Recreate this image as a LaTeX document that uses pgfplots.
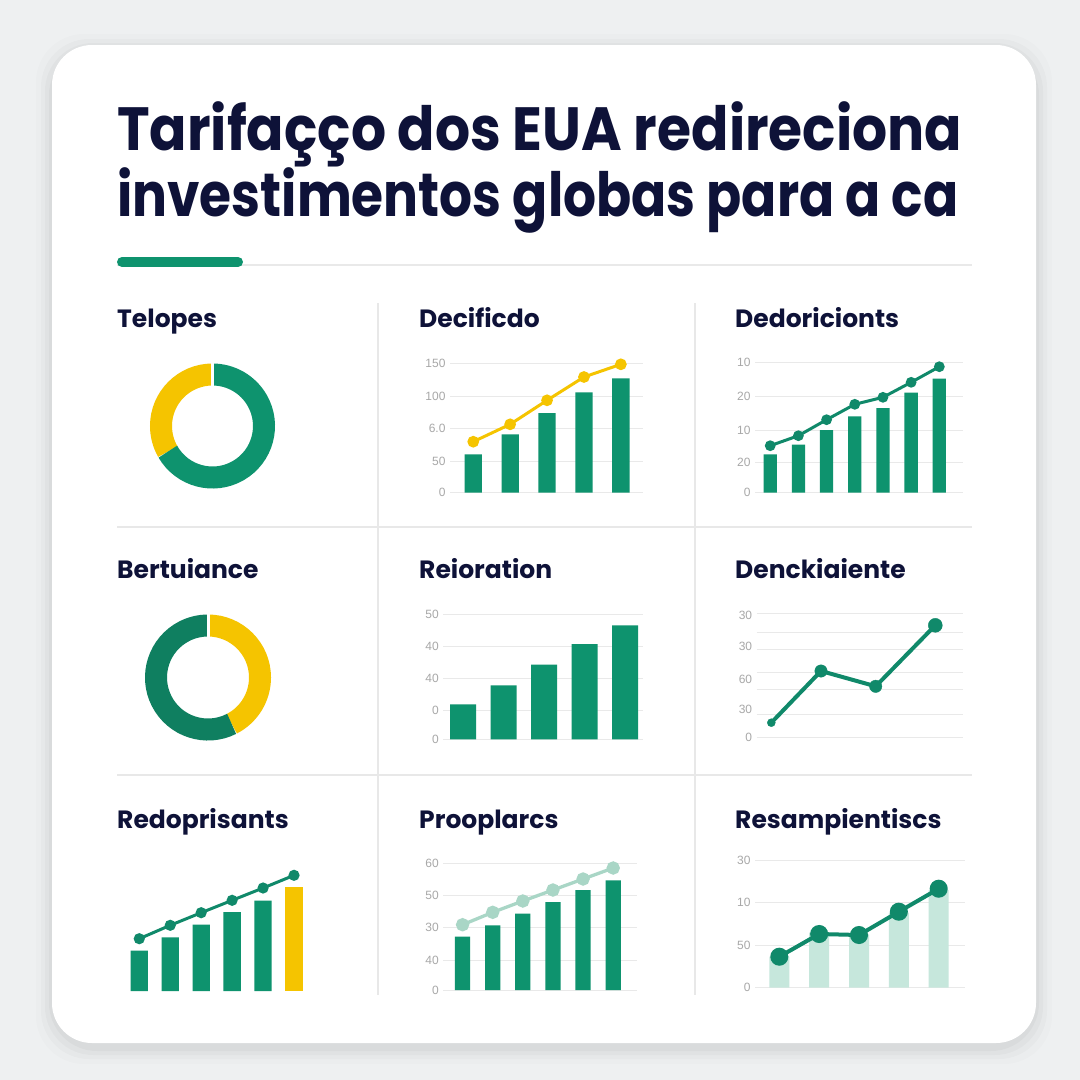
\documentclass[border=0pt]{standalone}
\usepackage{fontspec}
\usepackage{graphicx}
\usepackage{pgfplots}
\pgfplotsset{compat=1.18}
\setmainfont{Poppins}
\newfontfamily\tickfont{Liberation Sans}
\definecolor{bg}{HTML}{EEF0F1}
\definecolor{navy}{HTML}{0E1238}
\definecolor{gr}{HTML}{0E936E}
\definecolor{grl}{HTML}{10896A}
\definecolor{grd}{HTML}{0F7F60}
\definecolor{yl}{HTML}{F5C400}
\definecolor{lg}{HTML}{A9D6C6}
\definecolor{lb}{HTML}{C6E7DC}
\definecolor{gridc}{HTML}{E9E9E9}
\definecolor{sep}{HTML}{E8E8E8}
\definecolor{tickc}{HTML}{A8A8A8}
\pgfplotsset{
  panel/.style={scale only axis, anchor=south west, clip=false,
    axis line style={draw=none}, tick style={draw=none},
    xtick=\empty, ymajorgrids, grid style={gridc, line width=1pt},
    ymin=0,
    yticklabel style={font=\fontsize{12}{12}\selectfont\tickfont, text=tickc, xshift=-1pt},
    /pgf/number format/assume math mode=true},
  donut/.style={scale only axis, anchor=south west, hide axis,
    xmin=-1, xmax=1, ymin=-1, ymax=1, clip=false},
}
% donut shares (fraction of the ring)
\def\dOneY{0.333}  % Telopes, yellow share
\def\dTwoY{0.425}  % Bertuiance, yellow share
\begin{document}
\begin{tikzpicture}[x=1pt,y=-1pt]
\fill[bg] (0,0) rectangle (1080,1080);
\foreach \i/\o in {16/0.012, 11/0.018, 7/0.022, 3/0.028}{
  \fill[black, opacity=\o, rounded corners=48pt] (52-\i,45-\i+5) rectangle (1036+\i,1043+\i+5);}
\fill[white, rounded corners=40pt] (52,45) rectangle (1036,1043);
% title
\node[anchor=base west, inner sep=0, text=navy, font=\fontsize{61}{61}\selectfont\bfseries] at (117,150) {\resizebox{845pt}{\height}{Tarifaçço dos EUA redireciona}};
\node[anchor=base west, inner sep=0, text=navy, font=\fontsize{61}{61}\selectfont\bfseries] at (117,216.7) {\resizebox{841pt}{\height}{investimentos globas para a ca}};
\draw[gridc, line width=1.5pt] (117,265) -- (972,265);
\draw[gr, line width=10pt, line cap=round] (122,262) -- (238,262);
% separators
\draw[sep, line width=1.2pt] (117,527) -- (972,527);
\draw[sep, line width=1.2pt] (117,775) -- (972,775);
\draw[sep, line width=1.2pt] (378,303) -- (378,995);
\draw[sep, line width=1.2pt] (695,303) -- (695,995);
% panel titles
\tikzset{pt/.style={anchor=base west, inner sep=0, text=navy, font=\fontsize{25}{25}\selectfont\bfseries}}
\node[pt] at (117,327.3) {Telopes};
\node[pt] at (419,327.3) {Decificdo};
\node[pt] at (735,327.3) {Dedoricionts};
\node[pt] at (117,578) {Bertuiance};
\node[pt] at (419,578) {Reioration};
\node[pt] at (735,578) {Denckiaiente};
\node[pt] at (117,828.5) {Redoprisants};
\node[pt] at (419,828.5) {Prooplarcs};
\node[pt] at (735,828.5) {Resampientiscs};

% ---- Telopes donut
\begin{axis}[donut, at={(150.5pt,-488pt)}, width=124pt, height=124pt]
\pgfmathsetmacro\ea{90+360*\dOneY}
\draw[yl, line width=22pt] (axis cs:0,0) ++(90:51.5pt) arc[start angle=90, end angle=\ea, radius=51.5pt];
\draw[gr, line width=22pt] (axis cs:0,0) ++(\ea:51.5pt) arc[start angle=\ea, end angle=450, radius=51.5pt];
\draw[white, line width=3pt] (axis cs:0,0) ++(90:38pt) -- ++(90:28pt);
\end{axis}

% ---- Decificdo
\begin{axis}[panel, at={(450pt,-492.7pt)}, width=193pt, height=129.4pt, xmin=-0.63, xmax=4.6, ymax=129.4,
  ytick={0,31.4,64,96.7,129.4}, yticklabels={0,50,6.0,100,150}]
\addplot[ybar, bar width=17.3pt, fill=gr, draw=none] coordinates {(0,38.4)(1,58.4)(2,79.7)(3,100.4)(4,114.4)};
\addplot[yl, line width=3pt, mark=*, mark size=4.3pt] coordinates {(0,51)(1,68.4)(2,92.4)(3,115.7)(4,128.4)};
\end{axis}

% ---- Dedoricionts
\begin{axis}[panel, at={(755pt,-492.7pt)}, width=208pt, height=130pt, xmin=-0.54, xmax=6.84, ymax=130,
  ytick={0,30,62.7,96,130}, yticklabels={0,20,10,20,10}]
\addplot[ybar, bar width=13.3pt, fill=gr, draw=none] coordinates {(0,38.4)(1,48)(2,62.7)(3,76.4)(4,84.7)(5,100)(6,114)};
\addplot[grl, line width=3pt, mark=*, mark size=3.8pt] coordinates {(0,47)(1,57)(2,73)(3,88.4)(4,95.4)(5,110.4)(6,126)};
\end{axis}

% ---- Bertuiance donut
\begin{axis}[donut, at={(145.5pt,-740pt)}, width=125pt, height=125pt]
\pgfmathsetmacro\eb{90-360*\dTwoY}
\draw[yl, line width=22pt] (axis cs:0,0) ++(90:52pt) arc[start angle=90, end angle=\eb, radius=52pt];
\draw[grd, line width=22pt] (axis cs:0,0) ++(\eb:52pt) arc[start angle=\eb, end angle=-270, radius=52pt];
\draw[white, line width=3pt] (axis cs:0,0) ++(90:38pt) -- ++(90:28pt);
\end{axis}

% ---- Reioration
\begin{axis}[panel, at={(443.3pt,-739.3pt)}, width=200pt, height=125.3pt, xmin=-0.49, xmax=4.45, ymax=125.3,
  ytick={0,29.3,60.6,92.6,125.3}, yticklabels={0,0,40,40,50}]
\addplot[ybar, bar width=26pt, fill=gr, draw=none] coordinates {(0,35)(1,54)(2,74.6)(3,95.3)(4,114)};
\end{axis}

% ---- Denckiaiente
\begin{axis}[panel, at={(756.7pt,-737.7pt)}, width=206.6pt, height=124.4pt, xmin=0, xmax=206.6, ymax=124.4,
  ytick={0,23.7,48.4,65.7,88.4,105.4,124.4}, yticklabels={},
  extra y ticks={0,28.4,58.4,91,122.7}, extra y tick labels={0,30,60,30,30},
  extra y tick style={grid=none}]
\addplot[grl, line width=4pt] coordinates {(14.6,15)(64.3,66.7)(119,51.4)(178.6,112.4)};
\addplot[grl, only marks, mark=*, mark size=4pt] coordinates {(14.6,15)};
\addplot[grl, only marks, mark=*, mark size=6.2pt] coordinates {(64.3,66.7)(119,51.4)};
\addplot[grl, only marks, mark=*, mark size=7pt] coordinates {(178.6,112.4)};
\end{axis}

% ---- Redoprisants
\begin{axis}[scale only axis, anchor=south west, hide axis, clip=false, at={(120.7pt,-991pt)}, width=191.9pt, height=120pt,
  xmin=-0.6, xmax=5.6, ymin=0, ymax=120]
\addplot[ybar, bar width=17.3pt, fill=gr, draw=none] coordinates {(0,40.3)(1,53.7)(2,66.3)(3,79)(4,90.3)};
\addplot[ybar, bar width=17.3pt, fill=yl, draw=none] coordinates {(5,103.7)};
\addplot[grl, line width=3pt, mark=*, mark size=4pt] coordinates {(0,52.3)(1,65.7)(2,78.3)(3,90.7)(4,103)(5,115.7)};
\end{axis}

% ---- Prooplarcs
\begin{axis}[panel, at={(443.3pt,-990pt)}, width=193.4pt, height=126.7pt, xmin=-0.64, xmax=5.78, ymax=126.7,
  ytick={0,30,62.7,95,126.7}, yticklabels={0,40,30,50,60}]
\addplot[ybar, bar width=15.3pt, fill=gr, draw=none] coordinates {(0,53.3)(1,64.7)(2,76.3)(3,88)(4,100)(5,109.7)};
\addplot[lg, line width=3.3pt, mark=*, mark size=5pt] coordinates {(0,65.3)(1,77.7)(2,89)(3,100)(4,111)(5,122)};
\end{axis}

% ---- Resampientiscs
\begin{axis}[panel, at={(755pt,-987.7pt)}, width=210pt, height=127pt, xmin=-0.61, xmax=4.66, ymax=127,
  ytick={0,42.4,85.7,127}, yticklabels={0,50,10,30}]
\addplot[ybar, bar width=20pt, fill=lb, draw=none] coordinates {(0,31)(1,55)(2,53.4)(3,75)(4,97.7)};
\addplot[grl, line width=4pt, mark=*, mark size=7pt] coordinates {(0,31)(1,53.7)(2,52.7)(3,76)(4,99)};
\end{axis}

\pgfresetboundingbox
\useasboundingbox (0,0) rectangle (1080,1080);
\end{tikzpicture}
\end{document}
